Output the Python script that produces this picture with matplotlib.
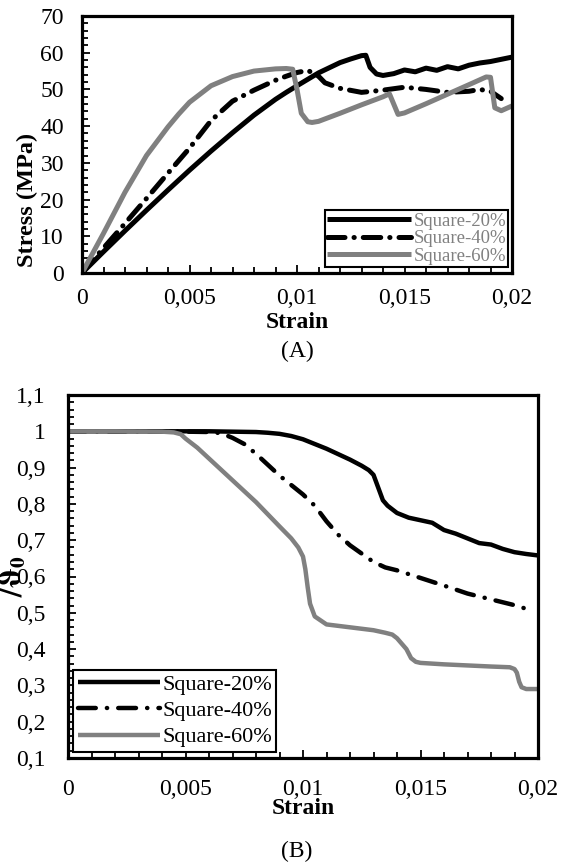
import numpy as np
import matplotlib
matplotlib.use("Agg")
import matplotlib.pyplot as plt
from matplotlib.ticker import MultipleLocator, FuncFormatter

plt.rcParams["font.family"] = ["Liberation Serif", "DejaVu Serif"]
plt.rcParams["mathtext.fontset"] = "stix"

LABELS = ["Square-20%", "Square-40%", "Square-60%"]
GREY = "#808080"

# (A) stress-strain
strain20_a = [0, 0.001, 0.002, 0.003, 0.004, 0.005, 0.006, 0.007, 0.008, 0.009, 0.0095,
              0.010, 0.011, 0.012, 0.0125, 0.013, 0.0132, 0.0134, 0.0137, 0.014, 0.0145,
              0.015, 0.0155, 0.016, 0.0165, 0.017, 0.0175, 0.018, 0.0185, 0.019, 0.0195, 0.020]
stress20_a = [0, 5.8, 11.5, 17.1, 22.6, 28.0, 33.2, 38.2, 43.0, 47.3, 49.2,
              51.0, 54.5, 57.3, 58.3, 59.2, 59.3, 56.0, 54.2, 53.8, 54.3,
              55.3, 54.8, 55.8, 55.2, 56.2, 55.6, 56.6, 57.2, 57.6, 58.2, 58.8]

strain40_a = [0, 0.001, 0.002, 0.003, 0.004, 0.005, 0.006, 0.007, 0.008, 0.009, 0.0095,
              0.010, 0.0105, 0.011, 0.0113, 0.012, 0.013, 0.014, 0.015, 0.016, 0.017,
              0.018, 0.0185, 0.019, 0.0195]
stress40_a = [0, 6.8, 13.5, 20.3, 27.2, 34.0, 41.5, 46.8, 49.8, 52.5, 53.6,
              54.6, 55.2, 53.6, 51.8, 50.3, 49.2, 49.8, 50.6, 50.0, 49.2,
              49.5, 50.0, 49.5, 47.5]

strain60_a = [0, 0.001, 0.002, 0.003, 0.004, 0.0045, 0.005, 0.006, 0.007, 0.008, 0.009,
              0.0095, 0.0098, 0.0100, 0.0102, 0.0105, 0.0107, 0.011, 0.012, 0.013, 0.014,
              0.0143, 0.0145, 0.0147, 0.015, 0.016, 0.017, 0.018, 0.0188, 0.0190,
              0.0192, 0.0195, 0.020]
stress60_a = [0, 10.8, 22.0, 32.0, 39.8, 43.3, 46.5, 51.0, 53.5, 55.0, 55.6,
              55.7, 55.5, 50.0, 43.5, 41.2, 41.0, 41.3, 43.5, 45.8, 48.0,
              48.8, 46.0, 43.2, 43.6, 46.1, 48.7, 51.3, 53.4, 53.3,
              45.0, 44.2, 45.5]

# (B) normalised modulus
strain20_b = [0, 0.002, 0.004, 0.006, 0.008, 0.0085, 0.009, 0.0095, 0.010, 0.011, 0.012,
              0.0125, 0.0128, 0.013, 0.0132, 0.0134, 0.0136, 0.014, 0.0145, 0.015, 0.0155,
              0.016, 0.0165, 0.017, 0.0175, 0.018, 0.0185, 0.019, 0.0195, 0.020]
ratio20_b = [1.0, 1.0, 1.0, 1.0, 0.998, 0.996, 0.993, 0.987, 0.978, 0.952, 0.922,
             0.905, 0.893, 0.880, 0.845, 0.810, 0.795, 0.775, 0.762, 0.755, 0.748,
             0.728, 0.718, 0.705, 0.692, 0.688, 0.676, 0.667, 0.662, 0.658]

strain40_b = [0, 0.002, 0.004, 0.006, 0.0065, 0.007, 0.0075, 0.008, 0.0085, 0.009, 0.0095,
              0.010, 0.0105, 0.011, 0.0115, 0.012, 0.0125, 0.013, 0.0135, 0.014, 0.015,
              0.016, 0.017, 0.018, 0.019, 0.0197]
ratio40_b = [1.0, 1.0, 1.0, 0.998, 0.995, 0.982, 0.965, 0.938, 0.908, 0.878, 0.852,
             0.826, 0.795, 0.752, 0.715, 0.686, 0.663, 0.640, 0.625, 0.617, 0.596,
             0.575, 0.553, 0.537, 0.521, 0.507]

strain60_b = [0, 0.002, 0.004, 0.0045, 0.0048, 0.005, 0.0055, 0.006, 0.007, 0.008, 0.009,
              0.0095, 0.0098, 0.0100, 0.0101, 0.0102, 0.0103, 0.0105, 0.011, 0.012, 0.013,
              0.0135, 0.0138, 0.014, 0.0142, 0.0144, 0.0146, 0.0148, 0.015, 0.016, 0.017,
              0.018, 0.0188, 0.019, 0.0191, 0.0192, 0.0193, 0.0195, 0.020]
ratio60_b = [1.0, 1.0, 0.999, 0.997, 0.992, 0.980, 0.955, 0.925, 0.865, 0.805, 0.738,
             0.705, 0.680, 0.655, 0.620, 0.570, 0.525, 0.490, 0.468, 0.460, 0.452,
             0.445, 0.440, 0.430, 0.415, 0.400, 0.375, 0.365, 0.362, 0.358, 0.355,
             0.352, 0.350, 0.345, 0.335, 0.310, 0.295, 0.290, 0.290]


def comma(value, pos):
    text = f"{value:g}"
    return text.replace(".", ",")


def style_axes(ax, lw, ypad, xpad):
    for spine in ax.spines.values():
        spine.set_linewidth(lw)
        spine.set_color("black")
    ax.tick_params(which="both", direction="in", top=False, right=False, labelsize=17,
                   width=1.3)
    ax.tick_params(which="major", length=6)
    ax.tick_params(which="minor", length=4)
    ax.tick_params(axis="y", pad=ypad)
    ax.tick_params(axis="x", pad=xpad)
    ax.xaxis.set_major_locator(MultipleLocator(0.005))
    ax.xaxis.set_minor_locator(MultipleLocator(0.001))
    ax.xaxis.set_major_formatter(FuncFormatter(comma))
    ax.yaxis.set_major_formatter(FuncFormatter(comma))


def draw_lines(ax, data, lw, dashes):
    colors = ["black", "black", GREY]
    for i, ((xs, ys), color, label) in enumerate(zip(data, colors, LABELS)):
        line, = ax.plot(xs, ys, color=color, lw=lw, label=label,
                        solid_capstyle="butt", dash_capstyle="round")
        if i == 1:
            line.set_dashes(dashes)


W, H = 565, 866
fig = plt.figure(figsize=(W / 100, H / 100), dpi=100)

# ---- panel A ----
ax_a = fig.add_axes([82 / W, 1 - 273 / H, 430 / W, 257 / H])
draw_lines(ax_a, [(strain20_a, stress20_a), (strain40_a, stress40_a), (strain60_a, stress60_a)],
           3.6, (3.5, 1.8, 0.05, 1.8))
ax_a.set_xlim(0, 0.02)
ax_a.set_ylim(0, 70)
style_axes(ax_a, 2.3, 13, 11)
ax_a.yaxis.set_major_locator(MultipleLocator(10))
ax_a.yaxis.set_minor_locator(MultipleLocator(2))
leg_a = ax_a.legend(loc="lower right", bbox_to_anchor=(0.991, 0.023), borderaxespad=0,
                    fontsize=13.5, handlelength=4.5, handletextpad=0.1, labelspacing=0.02,
                    borderpad=0.12, fancybox=False, framealpha=1, labelcolor=GREY)
leg_a.get_frame().set_edgecolor("black")
leg_a.get_frame().set_linewidth(1.5)

fig.text(27 / W, 1 - 200 / H, "Stress (MPa)", rotation=90, ha="center", va="center",
         fontsize=17.5, fontweight="bold")
fig.text(297 / W, 1 - 322 / H, "Strain", ha="center", va="center", fontsize=17,
         fontweight="bold")
fig.text(297 / W, 1 - 351 / H, "(A)", ha="center", va="center", fontsize=17)

# ---- panel B ----
ax_b = fig.add_axes([68 / W, 1 - 758 / H, 470 / W, 363 / H])
draw_lines(ax_b, [(strain20_b, ratio20_b), (strain40_b, ratio40_b), (strain60_b, ratio60_b)],
           3.2, (4.0, 2.5, 0.05, 2.5))
ax_b.set_xlim(0, 0.02)
ax_b.set_ylim(0.1, 1.1)
style_axes(ax_b, 2.3, 16, 15)
ax_b.yaxis.set_major_locator(MultipleLocator(0.1))
ax_b.yaxis.set_minor_locator(MultipleLocator(0.02))
leg_b = ax_b.legend(loc="lower left", bbox_to_anchor=(0.011, 0.017), borderaxespad=0,
                    fontsize=16, handlelength=3.7, handletextpad=0.1, labelspacing=0.25,
                    borderpad=0.2, fancybox=False, framealpha=1)
leg_b.get_frame().set_edgecolor("black")
leg_b.get_frame().set_linewidth(1.5)

fig.text(14 / W, 1 - 576 / H, r"$\mathbf{/}\boldsymbol{\vartheta}_\mathbf{0}$", rotation=90,
         ha="center", va="center", fontsize=22)
fig.text(303 / W, 1 - 809 / H, "Strain", ha="center", va="center", fontsize=17,
         fontweight="bold")
fig.text(297 / W, 1 - 851 / H, "(B)", ha="center", va="center", fontsize=17)

fig.savefig("out.png", dpi=100)
